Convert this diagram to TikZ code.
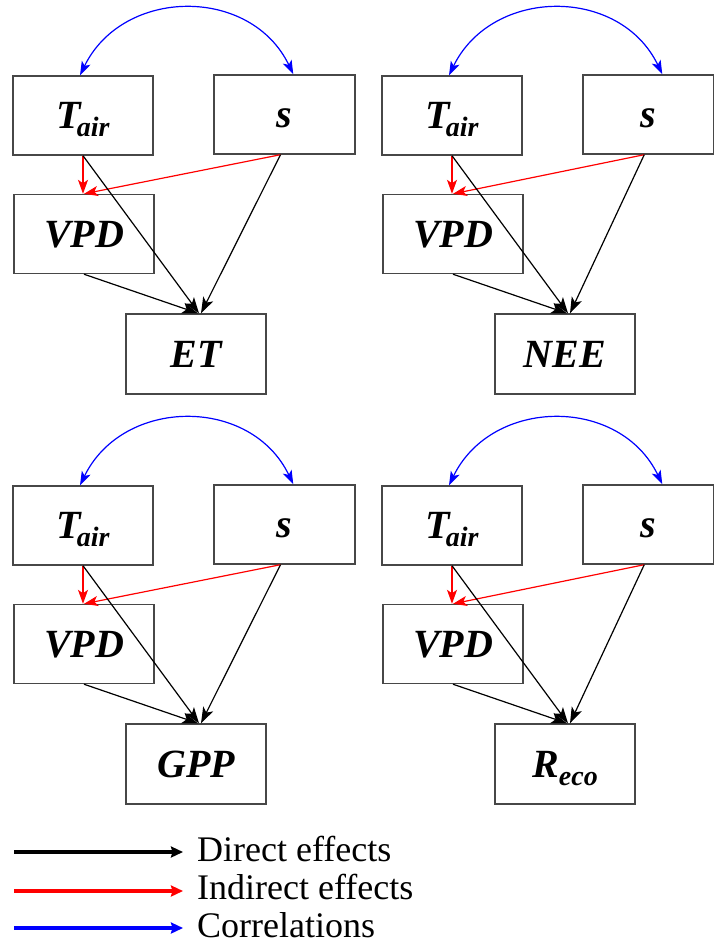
\documentclass[tikz,border=0pt]{standalone}
\usepackage{fontspec}
\setmainfont{Liberation Serif}
\usetikzlibrary{arrows.meta}

\newcommand{\subfont}{\fontsize{28}{28}\selectfont}

% one path diagram: Tair, s, VPD and an outcome variable
% #1,#2: offset; #3: name prefix; #4: outcome label; #5: centre x of the s box; #6: its width
\newcommand{\sempanel}[6]{%
  \begin{scope}[shift={(#1,#2)}]
    \node[varbox] (#3T) at (83,115.5) {T\kern-4pt\raisebox{-8pt}{\subfont air}};
    \node[varbox, minimum width=#6] (#3S) at (#5,114.5) {s};
    \node[varbox] (#3V) at (84,234) {VPD};
    \node[varbox, minimum height=80pt] (#3O) at (196,354) {#4};
    % correlation between the two drivers
    \draw[correl] ([xshift=-3pt]#3T.north)
      .. controls (123,-13) and (251,-14) .. ([xshift=80pt]#3S.north west);
    % indirect effects through VPD
    \draw[indirect] (#3T.south) -- (#3T.south |- #3V.north);
    \draw[indirect] ([xshift=-4pt]#3S.south) -- (#3V.north);
    % direct effects on the outcome
    \draw[direct] (#3T.south) -- ([xshift=3pt]#3O.north);
    \draw[direct] ([xshift=-4pt]#3S.south) -- ([xshift=5pt]#3O.north);
    \draw[direct] (#3V.south) -- ([xshift=2pt]#3O.north);
  \end{scope}}

\begin{document}
\begin{tikzpicture}[x=1pt,y=-1pt,
  varbox/.style={draw=black!72, line width=1.4pt, minimum width=140pt,
    minimum height=79pt, inner sep=0pt, text height=26pt, text depth=0pt,
    font=\fontsize{40}{40}\selectfont\bfseries\itshape},
  direct/.style={draw=black, line width=1.2pt,
    -{Stealth[length=16pt,width=11pt,inset=4pt]}},
  indirect/.style={draw=red, line width=1.2pt,
    -{Stealth[length=14pt,width=10pt,inset=3.5pt]}},
  correl/.style={draw=blue, line width=1.2pt,
    {Stealth[length=14pt,width=9.5pt,inset=3.5pt]}-{Stealth[length=14pt,width=9.5pt,inset=3.5pt]}},
  legline/.style={line width=3.5pt, -{Stealth[length=12pt,width=11pt,inset=1.5pt]}},
  legtext/.style={anchor=base west, inner sep=0pt,
    font=\fontsize{36}{36}\selectfont},
]
\useasboundingbox (0,0) rectangle (714,943);

\sempanel{0}{0}{a}{ET}{284.5}{141pt}
\sempanel{369}{0}{b}{NEE}{279.25}{130.5pt}
\sempanel{0}{410}{c}{GPP}{284.5}{141pt}
\sempanel{369}{410}{d}{R\raisebox{-8pt}{\subfont eco}}{279.25}{130.5pt}

% legend
\coordinate (k1a) at (14,852);  \coordinate (k1b) at (183,852);
\coordinate (k2a) at (14,891);  \coordinate (k2b) at (183,891);
\coordinate (k3a) at (14,928);  \coordinate (k3b) at (183,928);
\draw[legline, black] (k1a) -- (k1b);
\draw[legline, red]   (k2a) -- (k2b);
\draw[legline, blue]  (k3a) -- (k3b);
\node[legtext] (k1) at (197,861) {Direct effects};
\node[legtext] (k2) at (197,899) {Indirect effects};
\node[legtext] (k3) at (197,937) {Correlations};
\end{tikzpicture}
\end{document}
